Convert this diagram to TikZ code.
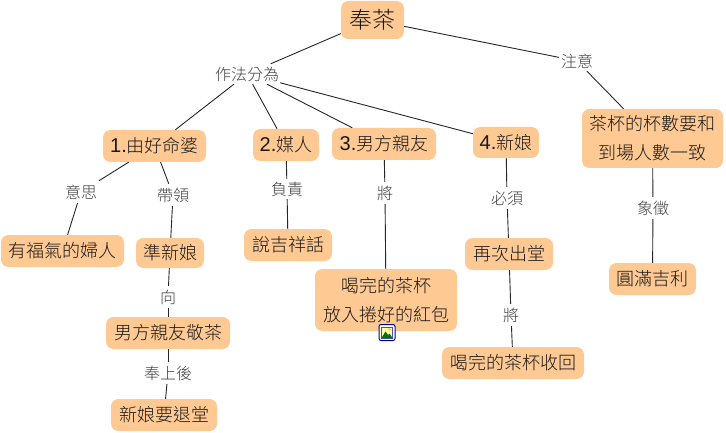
\documentclass[tikz,border=0pt]{standalone}
\usepackage{fontspec}
\setmainfont{Noto Sans CJK TC Light}
\newfontfamily\latinf{Liberation Sans}
\usetikzlibrary{positioning}
\tikzset{
  box/.style={fill=boxfill,rounded corners=7.5pt,inner sep=0pt,align=center,text=black!90,font=\fontsize{18}{29}\selectfont},
  lab/.style={inner sep=0pt,text=black!75,font=\fontsize{16}{18}\selectfont},
  conn/.style={draw=black!85,line width=0.9pt}
}
\definecolor{boxfill}{HTML}{FFC993}
\newcommand{\bx}[6]{\node[box,minimum width=#4 pt,minimum height=#5 pt] (#1) at (#2,#3) {#6};}
\newcommand{\nm}[1]{{\latinf\fontsize{20}{20}\selectfont #1.}}
\begin{document}
\begin{tikzpicture}[x=1pt,y=-1pt]
\useasboundingbox (0,0) rectangle (726,433);
\fill[white] (0,0) rectangle (726,433);
\bx{root}{372.5}{20}{63}{38}{\fontsize{23}{26}\selectfont 奉茶}
\bx{a}{154.5}{146}{103}{32}{\nm{1}由好命婆}
\bx{b}{286}{145}{66}{32}{\nm{2}媒人}
\bx{c}{384}{144}{104}{32}{\nm{3}男方親友}
\bx{d}{506}{142.5}{66}{31}{\nm{4}新娘}
\bx{e}{652.5}{138.5}{141}{59}{茶杯的杯數要和\\到場人數一致}
\bx{a1}{62.5}{251}{123}{32}{有福氣的婦人}
\bx{a2}{170}{253}{68}{30}{準新娘}
\bx{b1}{288}{245}{88}{32}{說吉祥話}
\bx{c1}{386}{300}{142}{62}{喝完的茶杯\\放入捲好的紅包}
\bx{d1}{509}{254}{88}{32}{再次出堂}
\bx{e1}{652.5}{279}{87}{32}{圓滿吉利}
\bx{a3}{168}{333}{124}{32}{男方親友敬茶}
\bx{d2}{513}{363}{142}{32}{喝完的茶杯收回}
\bx{a4}{164}{415}{106}{32}{新娘要退堂}
\node[lab,minimum width=66pt,minimum height=20pt] (how) at (247,74) {作法分為};
\node[lab,minimum width=36pt,minimum height=20pt] (note) at (577,61) {注意};
\node[lab,minimum width=36pt,minimum height=22pt] (mean) at (81,192) {意思};
\node[lab,minimum width=36pt,minimum height=22pt] (lead) at (173,195) {帶領};
\node[lab,minimum width=34pt,minimum height=20pt] (duty) at (287,189) {負責};
\node[lab,minimum width=20pt,minimum height=22pt] (will1) at (385,193) {將};
\node[lab,minimum width=36pt,minimum height=22pt] (must) at (507,198) {必須};
\node[lab,minimum width=36pt,minimum height=22pt] (sym) at (653,208) {象徵};
\node[lab,minimum width=20pt,minimum height=22pt] (to) at (168,297) {向};
\node[lab,minimum width=52pt,minimum height=22pt] (after) at (168,373) {奉上後};
\node[lab,minimum width=20pt,minimum height=22pt] (will2) at (511,315) {將};
\foreach \p/\q in {root/how,root/note,how/a,how/b,how/c,how/d,note/e,a/mean,a/lead,mean/a1,lead/a2,a2/to,to/a3,a3/after,after/a4,b/duty,duty/b1,c/will1,will1/c1,d/must,must/d1,d1/will2,will2/d2,e/sym,sym/e1}
  \draw[conn] (\p) -- (\q);
% picture icon
\node[draw=blue!55!black,fill=white,rounded corners=2pt,line width=1pt,minimum size=16pt,inner sep=0pt] (icon) at (387,332.5) {};
\fill[yellow!35!white,draw=blue!40!gray,line width=0.4pt] (381.5,327) rectangle (392.5,338);
\fill[green!45!black] (381.5,338) -- (385.5,331.5) -- (388,335) -- (389.5,333.5) -- (392.5,338) -- cycle;
\fill[yellow!80!orange] (389.5,329.5) circle (1.5);
\end{tikzpicture}
\end{document}
